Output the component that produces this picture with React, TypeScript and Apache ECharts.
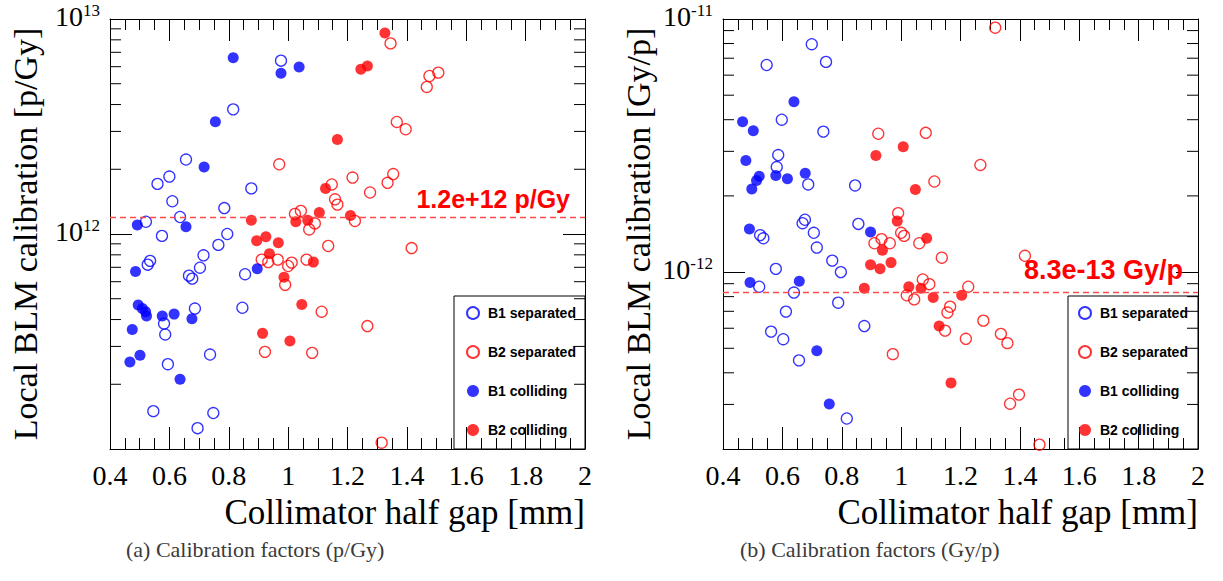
import React, { useEffect, useRef } from "react";
import * as echarts from "echarts";

type Pt = [number, number];

// ---------- axes ----------
const X_MIN = 0.4;
const X_MAX = 2;
const X_STEP = 0.2;
const X_TITLE = "Collimator half gap [mm]";

const LEFT_Y_MIN = 1e11;
const LEFT_Y_MAX = 1e13;
const RIGHT_Y_MIN = 2e-13;
const RIGHT_Y_MAX = 1e-11;
const LEFT_Y_TITLE = "Local BLM calibration [p/Gy]";
const RIGHT_Y_TITLE = "Local BLM calibration [Gy/p]";
const LEFT_Y_LABEL_EXP = [12, 13];
const RIGHT_Y_LABEL_EXP = [-12, -11];

const LEFT_MINOR_TICKS = [2e11, 3e11, 4e11, 5e11, 6e11, 7e11, 8e11, 9e11, 2e12, 3e12, 4e12, 5e12, 6e12, 7e12, 8e12, 9e12];
const RIGHT_MINOR_TICKS = [3e-13, 4e-13, 5e-13, 6e-13, 7e-13, 8e-13, 9e-13, 2e-12, 3e-12, 4e-12, 5e-12, 6e-12, 7e-12, 8e-12, 9e-12];

const LEFT_MEAN = 1.2e12;
const LEFT_MEAN_LABEL = "1.2e+12 p/Gy";
const RIGHT_MEAN = 8.3e-13;
const RIGHT_MEAN_LABEL = "8.3e-13 Gy/p";

const CAPTION_A = "(a) Calibration factors (p/Gy)";
const CAPTION_B = "(b) Calibration factors (Gy/p)";

const SERIES_NAMES = ["B1 separated", "B2 separated", "B1 colliding", "B2 colliding"];

// ---------- data: (a) p/Gy ----------
const B1_SEP_PGY: Pt[] = [
  [0.976, 6.4e12], [0.815, 3.8e12], [0.656, 2.22e12], [0.6, 1.85e12], [0.56, 1.71e12],
  [0.61, 1.42e12], [0.876, 1.63e12], [0.636, 1.2e12], [0.521, 1.14e12], [0.785, 1.32e12],
  [0.575, 0.98e12], [0.795, 1.0e12], [0.765, 8.9e11], [0.715, 7.96e11], [0.703, 6.97e11],
  [0.535, 7.5e11], [0.527, 7.2e11], [0.666, 6.4e11], [0.677, 6.2e11], [0.855, 6.5e11],
  [0.582, 3.83e11], [0.586, 3.41e11], [0.686, 4.5e11], [0.846, 4.54e11], [0.595, 2.48e11],
  [0.737, 2.75e11], [0.546, 1.5e11], [0.748, 1.47e11], [0.695, 1.25e11],
];
const B2_SEP_PGY: Pt[] = [
  [0.97, 2.11e12], [1.147, 1.7e12], [1.158, 1.45e12], [1.166, 1.37e12], [1.043, 1.28e12],
  [1.023, 1.24e12], [1.09, 1.12e12], [1.071, 1.05e12], [1.345, 7.7e12], [1.467, 4.83e12],
  [1.476, 5.43e12], [1.506, 5.63e12], [1.366, 3.32e12], [1.396, 3.07e12], [1.217, 1.83e12],
  [1.354, 1.9e12], [1.335, 1.73e12], [1.276, 1.56e12], [1.225, 1.15e12], [1.135, 8.8e11],
  [0.911, 7.6e11], [0.933, 7.4e11], [0.965, 7.6e11], [1.012, 7.36e11], [1.0, 7.1e11],
  [1.062, 7.6e11], [0.99, 5.8e11], [1.113, 4.35e11], [0.922, 2.83e11], [1.081, 2.8e11],
  [1.416, 8.6e11], [1.267, 3.73e11], [1.315, 1.07e11],
];
const B1_COL_PGY: Pt[] = [
  [0.815, 6.6e12], [0.976, 5.6e12], [1.037, 5.98e12], [0.755, 3.33e12], [0.717, 2.05e12],
  [0.492, 1.1e12], [0.656, 1.08e12], [0.486, 6.7e11], [0.896, 6.9e11], [0.495, 4.67e11],
  [0.509, 4.5e11], [0.52, 4.35e11], [0.523, 4.16e11], [0.576, 4.16e11], [0.616, 4.24e11],
  [0.676, 4.03e11], [0.475, 3.6e11], [0.467, 2.54e11], [0.501, 2.73e11], [0.636, 2.11e11],
];
const B2_COL_PGY: Pt[] = [
  [1.166, 2.75e12], [1.126, 1.63e12], [1.105, 1.26e12], [1.026, 1.14e12], [1.066, 1.16e12],
  [0.876, 1.16e12], [1.21, 1.22e12], [1.326, 8.6e12], [1.245, 5.84e12], [1.267, 6.04e12],
  [0.894, 9.3e11], [0.925, 9.7e11], [0.967, 9.1e11], [0.937, 8.1e11], [1.085, 7.4e11],
  [0.986, 6.3e11], [1.046, 4.7e11], [0.914, 3.45e11], [1.006, 3.18e11],
];

// ---------- data: (b) Gy/p ----------
const B1_SEP_GYP: Pt[] = [
  [0.699, 7.95e-12], [0.547, 6.58e-12], [0.747, 6.77e-12], [0.598, 4.0e-12], [0.738, 3.59e-12],
  [0.586, 2.9e-12], [0.581, 2.6e-12], [0.687, 2.22e-12], [0.845, 2.2e-12], [0.676, 1.61e-12],
  [0.668, 1.56e-12], [0.706, 1.43e-12], [0.856, 1.55e-12], [0.525, 1.4e-12], [0.536, 1.36e-12],
  [0.716, 1.25e-12], [0.768, 1.11e-12], [0.797, 1.0e-12], [0.578, 1.03e-12], [0.522, 8.75e-13],
  [0.639, 8.3e-13], [0.788, 7.57e-13], [0.612, 6.98e-13], [0.876, 6.12e-13], [0.562, 5.82e-13],
  [0.603, 5.43e-13], [0.656, 4.48e-13], [0.817, 2.64e-13],
];
const B2_SEP_GYP: Pt[] = [
  [0.923, 3.52e-12], [1.083, 3.55e-12], [1.112, 2.28e-12], [0.99, 1.71e-12], [1.0, 1.43e-12],
  [1.01, 1.39e-12], [1.317, 9.24e-12], [1.267, 2.65e-12], [0.91, 1.3e-12], [0.934, 1.35e-12],
  [0.962, 1.3e-12], [1.061, 1.3e-12], [1.137, 1.14e-12], [1.073, 9.35e-13], [1.095, 8.96e-13],
  [1.019, 8.1e-13], [1.044, 7.8e-13], [0.972, 4.74e-13], [1.417, 1.16e-12], [1.226, 8.75e-13],
  [1.165, 7.3e-13], [1.156, 6.92e-13], [1.148, 5.87e-13], [1.277, 6.43e-13], [1.218, 5.45e-13],
  [1.336, 5.7e-13], [1.358, 5.24e-13], [1.397, 3.28e-13], [1.367, 3.02e-13], [1.466, 2.08e-13],
];
const B1_COL_GYP: Pt[] = [
  [0.639, 4.71e-12], [0.466, 3.93e-12], [0.502, 3.62e-12], [0.477, 2.76e-12], [0.522, 2.39e-12],
  [0.513, 2.3e-12], [0.497, 2.13e-12], [0.578, 2.41e-12], [0.617, 2.34e-12], [0.677, 2.46e-12],
  [0.489, 1.48e-12], [0.897, 1.44e-12], [0.491, 9.1e-13], [0.657, 9.2e-13], [0.716, 4.89e-13],
  [0.758, 3.01e-13],
];
const B2_COL_GYP: Pt[] = [
  [1.007, 3.13e-12], [0.915, 2.89e-12], [1.048, 2.12e-12], [0.987, 1.59e-12], [1.086, 1.36e-12],
  [0.937, 1.22e-12], [0.897, 1.07e-12], [0.929, 1.03e-12], [0.966, 1.09e-12], [0.876, 8.63e-13],
  [1.026, 8.75e-13], [1.067, 8.63e-13], [1.108, 7.93e-13], [1.128, 6.12e-13], [1.204, 8.1e-13],
  [1.168, 3.65e-13],
];

const SERIF = "'Liberation Serif', 'Times New Roman', serif";
const SANS = "'Liberation Sans', Arial, sans-serif";
const LINE = { color: "#000", width: 1 };

function makeX(gridIndex: number, bottom: boolean) {
  return {
    type: "value",
    gridIndex,
    min: X_MIN,
    max: X_MAX,
    interval: X_STEP,
    position: bottom ? "bottom" : "top",
    axisLine: { show: true, onZero: false, lineStyle: LINE },
    axisTick: { show: true, inside: true, length: 22, lineStyle: LINE },
    minorTick: { show: true, splitNumber: 4, length: 11, lineStyle: LINE },
    splitLine: { show: false },
    minorSplitLine: { show: false },
    axisLabel: bottom
      ? {
          show: true,
          margin: 12,
          fontFamily: SERIF,
          fontSize: 28,
          color: "#000",
          formatter: (v: number) => String(Number(v.toFixed(2))),
        }
      : { show: false },
    name: bottom ? X_TITLE : "",
    nameLocation: "end",
    nameGap: 0,
    nameTextStyle: {
      fontFamily: SERIF,
      fontSize: 35,
      color: "#000",
      align: "right",
      verticalAlign: "top",
      padding: [46, 0, 0, 0],
    },
  };
}

function makeY(gridIndex: number, left: boolean, min: number, max: number, exps: number[], title: string) {
  return {
    type: "log",
    logBase: 10,
    gridIndex,
    min,
    max,
    position: left ? "left" : "right",
    axisLine: { show: true, onZero: false, lineStyle: LINE },
    axisTick: { show: true, inside: true, length: 22, lineStyle: LINE },
    minorTick: { show: false },
    splitLine: { show: false },
    axisLabel: left
      ? {
          show: true,
          margin: 10,
          padding: [0, 0, 6, 0],
          formatter: (v: number) => {
            const l = Math.log10(v);
            const e = Math.round(l);
            if (Math.abs(l - e) > 1e-6 || exps.indexOf(e) < 0) return "";
            return `{b|10}{s|${e}}`;
          },
          rich: {
            b: { fontFamily: SERIF, fontSize: 28, color: "#000", lineHeight: 28, padding: [2, 0, 0, 0], verticalAlign: "bottom" },
            s: { fontFamily: SERIF, fontSize: 17, color: "#000", lineHeight: 17, verticalAlign: "top" },
          },
        }
      : { show: false },
    name: left ? title : "",
    nameLocation: "middle",
    nameGap: 68,
    nameRotate: 90,
    nameTextStyle: { fontFamily: SERIF, fontSize: 34, color: "#000" },
  };
}

type MeanOpt = { value: number; text: string; fontSize: number; distance: number; padRight: number };

function scatter(name: string, data: Pt[], axis: number, mean?: MeanOpt) {
  const col = name.startsWith("B1") ? "#0000ff" : "#ff0000";
  const open = name.endsWith("separated");
  const s: any = {
    name,
    type: "scatter",
    xAxisIndex: axis,
    yAxisIndex: axis,
    data,
    symbol: "circle",
    symbolSize: 11,
    itemStyle: open
      ? { color: "rgba(255,255,255,0)", borderColor: col, borderWidth: 1.3 }
      : { color: col, borderWidth: 0 },
  };
  if (mean) {
    s.markLine = {
      silent: true,
      precision: 20,
      symbol: ["none", "none"],
      data: [{ yAxis: mean.value }],
      lineStyle: { type: [6, 4], color: "#ff4a4a", width: 1.3 },
      label: {
        show: true,
        position: "insideEndTop",
        formatter: mean.text,
        color: "#ff0000",
        fontFamily: SANS,
        fontWeight: "bold",
        fontSize: mean.fontSize,
        distance: mean.distance,
        padding: [0, mean.padRight, 0, 0],
      },
    };
  }
  return s;
}

function minorTicks(axis: number, values: number[]) {
  return {
    type: "custom",
    xAxisIndex: axis,
    yAxisIndex: axis,
    silent: true,
    clip: false,
    z: 5,
    data: values.map((v) => [X_MIN, v]),
    encode: { x: 0, y: 1 },
    renderItem: (_p: any, api: any) => {
      const v = api.value(1);
      const a = api.coord([X_MIN, v]);
      const b = api.coord([X_MAX, v]);
      const st = { stroke: "#000", lineWidth: 1 };
      return {
        type: "group",
        children: [
          { type: "line", shape: { x1: a[0], y1: a[1], x2: a[0] + 11, y2: a[1] }, style: st },
          { type: "line", shape: { x1: b[0] - 11, y1: b[1], x2: b[0], y2: b[1] }, style: st },
        ],
      };
    },
  };
}

function legendAt(left: number) {
  return {
    data: SERIES_NAMES,
    orient: "vertical",
    left,
    top: 306,
    padding: 0,
    itemWidth: 12,
    itemHeight: 12,
    itemGap: 25,
    selectedMode: false,
    textStyle: { fontFamily: SANS, fontWeight: "bold", fontSize: 14, lineHeight: 14, color: "#000", padding: [0, 0, 0, 4] },
  };
}

export default function App() {
  const ref = useRef<HTMLDivElement>(null);
  useEffect(() => {
    document.body.style.margin = "0";
    if (!ref.current) return;
    const chart = echarts.init(ref.current, null, { renderer: "svg" });
    const captionStyle = { fontFamily: SERIF, fontSize: 22, fontWeight: "normal", color: "#3a3a3a" };
    const option: any = {
      animation: false,
      backgroundColor: "#fff",
      title: [
        { text: CAPTION_A, left: 121, top: 533, textStyle: captionStyle },
        { text: CAPTION_B, left: 735, top: 533, textStyle: captionStyle },
      ],
      grid: [
        { left: 110, top: 18, width: 475, height: 431 },
        { left: 723, top: 18, width: 475, height: 431 },
      ],
      xAxis: [makeX(0, true), makeX(0, false), makeX(1, true), makeX(1, false)],
      yAxis: [
        makeY(0, true, LEFT_Y_MIN, LEFT_Y_MAX, LEFT_Y_LABEL_EXP, LEFT_Y_TITLE),
        makeY(0, false, LEFT_Y_MIN, LEFT_Y_MAX, LEFT_Y_LABEL_EXP, LEFT_Y_TITLE),
        makeY(1, true, RIGHT_Y_MIN, RIGHT_Y_MAX, RIGHT_Y_LABEL_EXP, RIGHT_Y_TITLE),
        makeY(1, false, RIGHT_Y_MIN, RIGHT_Y_MAX, RIGHT_Y_LABEL_EXP, RIGHT_Y_TITLE),
      ],
      legend: [legendAt(466), legendAt(1078)],
      graphic: [
        { type: "rect", z: -1, shape: { x: 454, y: 296, width: 131, height: 153 }, style: { fill: "#fff", stroke: "#000", lineWidth: 1 } },
        { type: "rect", z: -1, shape: { x: 1068, y: 296, width: 130, height: 153 }, style: { fill: "#fff", stroke: "#000", lineWidth: 1 } },
      ],
      series: [
        scatter("B1 separated", B1_SEP_PGY, 0),
        scatter("B2 separated", B2_SEP_PGY, 0),
        scatter("B1 colliding", B1_COL_PGY, 0),
        scatter("B2 colliding", B2_COL_PGY, 0, { value: LEFT_MEAN, text: LEFT_MEAN_LABEL, fontSize: 25, distance: 5, padRight: 10 }),
        minorTicks(0, LEFT_MINOR_TICKS),
        scatter("B1 separated", B1_SEP_GYP, 2),
        scatter("B2 separated", B2_SEP_GYP, 2),
        scatter("B1 colliding", B1_COL_GYP, 2),
        scatter("B2 colliding", B2_COL_GYP, 2, { value: RIGHT_MEAN, text: RIGHT_MEAN_LABEL, fontSize: 27, distance: 9, padRight: 6 }),
        minorTicks(2, RIGHT_MINOR_TICKS),
      ],
    };
    chart.setOption(option);
    return () => chart.dispose();
  }, []);
  return <div ref={ref} style={{ width: 1223, height: 581 }} />;
}
